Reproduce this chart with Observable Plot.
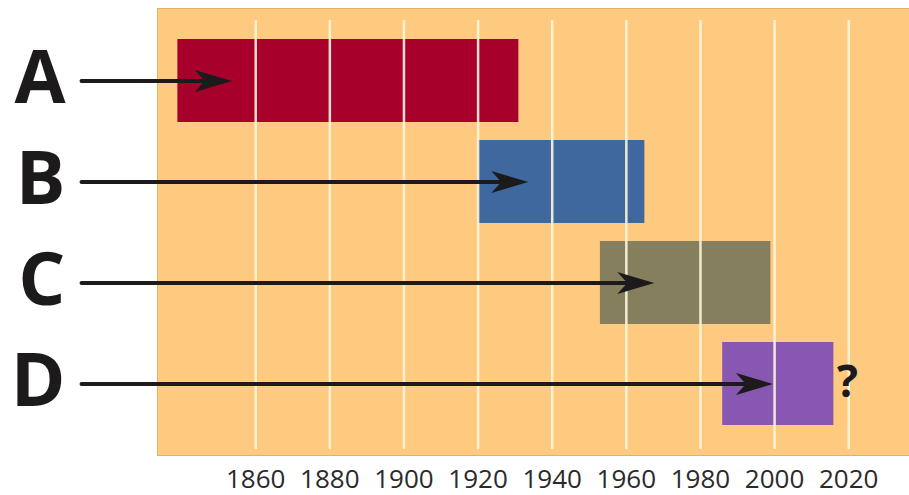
<!DOCTYPE html>
<html>
<head>
<meta charset="utf-8">
<script src="https://cdn.jsdelivr.net/npm/d3@7"></script>
<script src="https://cdn.jsdelivr.net/npm/@observablehq/plot@0.6"></script>
<style>
  html, body { margin: 0; padding: 0; background: #ffffff; }
  #chart svg { display: block; }
</style>
</head>
<body>
<div id="chart"></div>
<script>
// ---- data ----
const categories = ["A", "B", "C", "D"];
const startYears = [1839, 1920, 1953, 1986];
const endYears   = [1931, 1965, 1999, 2016];
const arrowStart = [1813, 1813, 1813, 1813];
const arrowEnd   = [1853, 1933, 1967, 1999];
const barColors  = ["#a6002b", "#3f699e", "#857f5e", "#8757b2"];
const tickYears  = [1860, 1880, 1900, 1920, 1940, 1960, 1980, 2000, 2020];
const notes      = [{cat: "D", year: 2016, label: "?"}];

const bars = categories.map((c, i) => ({cat: c, x1: startYears[i], x2: endYears[i], color: barColors[i]}));
const arrows = categories.map((c, i) => ({cat: c, x1: arrowStart[i], x2: arrowEnd[i]}));

// filled barbed arrowhead pointing right, tip at origin
const arrowHead = {
  draw(ctx, size) {
    ctx.moveTo(2, 0);
    ctx.lineTo(-35, -11);
    ctx.lineTo(-25, 0);
    ctx.lineTo(-35, 11);
    ctx.closePath();
  }
};

const chart = Plot.plot({
  width: 909,
  height: 495,
  marginLeft: 157,
  marginRight: 0,
  marginTop: 8,
  marginBottom: 40,
  style: {background: "transparent", fontFamily: "'Open Sans', sans-serif"},
  x: {domain: [1833.5, 2036.4]},
  y: {domain: categories, paddingInner: 0.18, paddingOuter: 0.285},
  marks: [
    Plot.frame({fill: "#fdca7f", stroke: "#e2b16c", strokeWidth: 1}),
    Plot.barX(bars, {x1: "x1", x2: "x2", y: "cat", fill: "color"}),
    Plot.ruleX(tickYears, {stroke: "#fff6dc", strokeWidth: 2.5, strokeOpacity: 0.9, insetTop: 12, insetBottom: 6}),
    Plot.arrow(arrows, {
      x1: "x1", x2: "x2", y1: "cat", y2: "cat",
      stroke: "#1c1a1a", strokeWidth: 4, headLength: 0, insetEnd: 14, bend: 0
    }),
    Plot.dot(arrows, {x: "x2", y: "cat", symbol: arrowHead, r: 10, fill: "#1c1a1a", stroke: "none"}),
    Plot.text(notes, {x: "year", y: "cat", text: "label", textAnchor: "start", dx: 3, dy: -1,
      fontSize: 44, fontWeight: 700, fill: "#1c1a1a"}),
    Plot.axisY({tickSize: 0, tickPadding: 92, fontSize: 74, fontWeight: 700, fill: "#1c1a1a", dy: -2, label: null}),
    Plot.axisX({ticks: tickYears, tickSize: 0, tickPadding: 14, fontSize: 26, fill: "#2a2a2a",
      tickFormat: d => String(d), label: null})
  ]
});
document.getElementById("chart").appendChild(chart);
</script>
</body>
</html>
